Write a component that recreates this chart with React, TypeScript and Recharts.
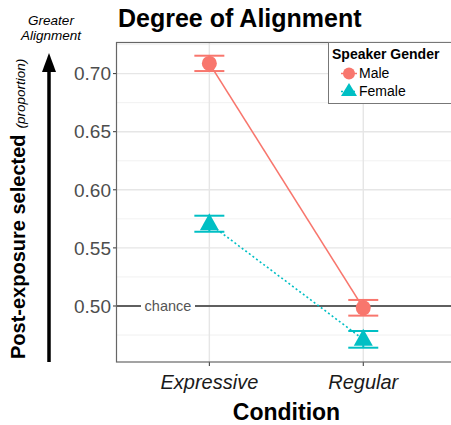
import {
  ComposedChart,
  Line,
  XAxis,
  YAxis,
  CartesianGrid,
  ErrorBar,
  ReferenceLine
} from "recharts";

const conditions = ["Expressive", "Regular"];
const maleMean = [0.7088, 0.4984];
const maleLow = [0.7022, 0.4917];
const maleHigh = [0.7154, 0.5052];
const femaleMean = [0.5708, 0.4713];
const femaleLow = [0.5639, 0.4641];
const femaleHigh = [0.5777, 0.4785];
const yTicks = [0.5, 0.55, 0.6, 0.65, 0.7];
const yMinor = [0.475, 0.525, 0.575, 0.625, 0.675, 0.725];

const MALE = "#F8766D";
const FEMALE = "#00BFC4";
const FONT = "'Liberation Sans', Arial, Helvetica, sans-serif";

const data = conditions.map((c, i) => ({
  x: i + 1,
  name: c,
  male: maleMean[i],
  maleErr: [maleMean[i] - maleLow[i], maleHigh[i] - maleMean[i]],
  female: femaleMean[i],
  femaleErr: [femaleMean[i] - femaleLow[i], femaleHigh[i] - femaleMean[i]]
}));

const CircleDot = ({ cx, cy }: any) => (
  <circle cx={cx} cy={cy} r={7.5} fill={MALE} />
);

const TriangleDot = ({ cx, cy }: any) => (
  <polygon
    points={`${cx},${cy - 10.5} ${cx - 9.5},${cy + 6.5} ${cx + 9.5},${cy + 6.5}`}
    fill={FEMALE}
  />
);

const ChanceLabel = ({ viewBox }: any) => {
  const { x, y } = viewBox;
  return (
    <g>
      <rect x={x + 24} y={y - 8} width={54} height={16} fill="#fff" />
      <text x={x + 51} y={y + 5} textAnchor="middle" fontSize={14.5} fill="#555" fontFamily={FONT}>
        chance
      </text>
    </g>
  );
};

const LegendBox = () => (
  <div
    style={{
      position: "absolute",
      left: 328,
      top: 42,
      width: 124,
      height: 62,
      border: "1.5px solid #777",
      background: "#fff",
      fontFamily: FONT,
      boxSizing: "border-box"
    }}
  >
    <div style={{ position: "absolute", left: 3, top: 3, fontWeight: "bold", fontSize: 14, color: "#000", whiteSpace: "nowrap" }}>
      Speaker Gender
    </div>
    <svg width={30} height={40} style={{ position: "absolute", left: 6, top: 20 }}>
      <line x1={6} y1={10.5} x2={22} y2={10.5} stroke={MALE} strokeWidth={1.5} />
      <circle cx={14} cy={10.5} r={6} fill={MALE} />
      <line x1={6} y1={28.5} x2={22} y2={28.5} stroke={FEMALE} strokeWidth={1.5} strokeDasharray="2 2" />
      <polygon points="14,20 6,33 22,33" fill={FEMALE} />
    </svg>
    <div style={{ position: "absolute", left: 30, top: 22, fontSize: 14, color: "#000", lineHeight: "16px" }}>Male</div>
    <div style={{ position: "absolute", left: 30, top: 40, fontSize: 14, color: "#000", lineHeight: "16px" }}>Female</div>
  </div>
);

export default function App() {
  return (
    <div style={{ position: "relative", width: 451, height: 425, background: "#fff", overflow: "hidden" }}>
      <style>{`body { margin: 0; }`}</style>
      <ComposedChart
        width={451}
        height={425}
        data={data}
        margin={{ top: 42, right: 0, bottom: 0, left: 0 }}
      >
        <CartesianGrid
          horizontalValues={yMinor}
          vertical={false}
          stroke="#ebebeb"
          strokeWidth={0.7}
        />
        <CartesianGrid
          horizontalValues={yTicks}
          verticalValues={[1, 2]}
          stroke="#e6e6e6"
          strokeWidth={1.4}
        />
        <XAxis
          type="number"
          dataKey="x"
          domain={[0.4, 2.57]}
          ticks={[1, 2]}
          allowDataOverflow
          height={63}
          tickFormatter={(v: number) => conditions[v - 1]}
          tick={{ fontSize: 20, fontStyle: "italic", fill: "#1a1a1a", fontFamily: FONT, dy: 7 }}
          tickSize={4}
          tickLine={{ stroke: "#333" }}
          axisLine={false}
        />
        <YAxis
          type="number"
          domain={[0.4518, 0.7272]}
          ticks={yTicks}
          allowDataOverflow
          width={117}
          tickFormatter={(v: number) => v.toFixed(2)}
          tick={{ fontSize: 19, fill: "#4d4d4d", fontFamily: FONT }}
          tickSize={4}
          tickLine={{ stroke: "#333" }}
          axisLine={false}
        />
        <ReferenceLine y={0.5} stroke="#5f5f5f" strokeWidth={1.8} label={<ChanceLabel />} />
        <Line
          dataKey="female"
          stroke={FEMALE}
          strokeWidth={1.6}
          strokeDasharray="2 2.5"
          dot={<TriangleDot />}
          activeDot={false}
          isAnimationActive={false}
        >
          <ErrorBar dataKey="femaleErr" width={15} stroke={FEMALE} strokeWidth={2} />
        </Line>
        <Line
          dataKey="male"
          stroke={MALE}
          strokeWidth={1.6}
          dot={<CircleDot />}
          activeDot={false}
          isAnimationActive={false}
        >
          <ErrorBar dataKey="maleErr" width={15} stroke={MALE} strokeWidth={2} />
        </Line>
      </ComposedChart>
      <svg
        width={451}
        height={425}
        style={{ position: "absolute", left: 0, top: 0, pointerEvents: "none" }}
      >
        <rect x={116.5} y={42.5} width={340} height={319.5} fill="none" stroke="#666" strokeWidth={1.2} />
        <text x={118} y={27} fontFamily={FONT} fontWeight="bold" fontSize={25} fill="#000">
          Degree of Alignment
        </text>
        <text x={51} y={25} textAnchor="middle" fontFamily={FONT} fontStyle="italic" fontSize={13.5} fill="#000">
          Greater
        </text>
        <text x={51} y={40} textAnchor="middle" fontFamily={FONT} fontStyle="italic" fontSize={13.5} fill="#000">
          Alignment
        </text>
        <line x1={49} y1={362} x2={49} y2={70} stroke="#000" strokeWidth={3.5} />
        <polygon points="49,53 42,72 56,72" fill="#000" />
        <text
          transform="translate(25,359) rotate(-90)"
          fontFamily={FONT}
          fill="#000"
        >
          <tspan fontWeight="bold" fontSize={20}>Post-exposure selected</tspan>
          <tspan fontStyle="italic" fontSize={13.5} dx={6}>(proportion)</tspan>
        </text>
        <text x={286.5} y={420} textAnchor="middle" fontFamily={FONT} fontWeight="bold" fontSize={23} fill="#000">
          Condition
        </text>
      </svg>
      <LegendBox />
    </div>
  );
}
